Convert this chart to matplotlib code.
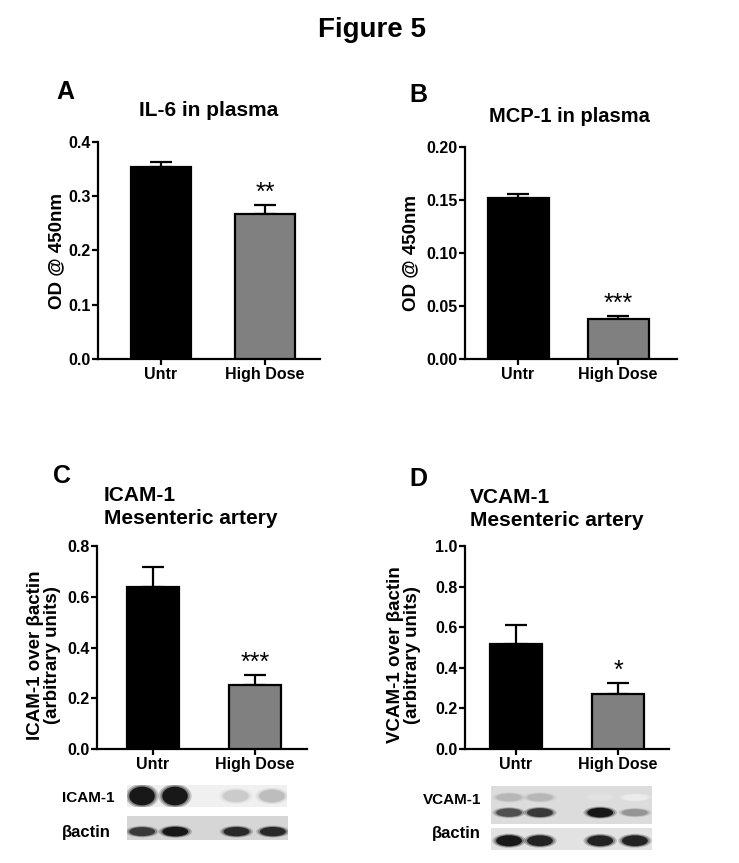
import matplotlib.pyplot as plt
from matplotlib.patches import Ellipse

W, H = 739, 863
plt.rcParams['font.family'] = ['Liberation Sans', 'DejaVu Sans']
plt.rcParams['font.weight'] = 'bold'

groups = ["Untr", "High Dose"]
bar_colors = ["black", "#808080"]

il6_mean = [0.354, 0.268]
il6_err = [0.009, 0.016]
mcp1_mean = [0.152, 0.038]
mcp1_err = [0.0035, 0.003]
icam_mean = [0.638, 0.252]
icam_err = [0.080, 0.039]
vcam_mean = [0.518, 0.273]
vcam_err = [0.092, 0.054]

il6_stars = ["", "**"]
mcp1_stars = ["", "***"]
icam_stars = ["", "***"]
vcam_stars = ["", "*"]

# western blot band intensities (0 = none, 1 = saturated), one per lane
icam_band = [1.0, 1.0, 0.22, 0.28]
icam_actin = [0.85, 1.0, 0.92, 0.92]
vcam_upper = [0.30, 0.30, 0.12, 0.08]
vcam_lower = [0.75, 0.85, 1.0, 0.45]
vcam_actin = [1.0, 0.95, 0.95, 0.95]


def box(l, r, t, b):
    return [l / W, 1 - b / H, (r - l) / W, (b - t) / H]


def txt(fig, x, y, s, **kw):
    fig.text(x / W, 1 - y / H, s, **kw)


def bar_panel(fig, rect_px, centers_px, bw_px, means, errs, stars, ymax, step, fmt):
    l, r, t, b = rect_px
    ax = fig.add_axes(box(l, r, t, b))
    sp = centers_px[1] - centers_px[0]
    x = [0, 1]
    ax.bar(x, means, width=bw_px / sp, color=bar_colors, edgecolor="black",
           linewidth=1.6, zorder=3)
    ax.errorbar(x, means, yerr=[[0, 0], errs], fmt="none", ecolor="black",
                elinewidth=1.6, capsize=8, capthick=1.6, zorder=2)
    for xi, m, e, s in zip(x, means, errs, stars):
        if s:
            ax.annotate(s, (xi, m + e), xytext=(0, 0), textcoords="offset points",
                        ha="center", va="bottom", fontsize=18, fontweight="normal")
    ax.set_xlim(-(centers_px[0] - l) / sp, 1 + (r - centers_px[1]) / sp)
    ax.set_ylim(0, ymax)
    n = int(round(ymax / step))
    ticks = [i * step for i in range(n + 1)]
    ax.set_yticks(ticks)
    ax.set_yticklabels([fmt.format(v) for v in ticks])
    ax.set_xticks(x)
    ax.set_xticklabels(groups)
    for s in ["top", "right"]:
        ax.spines[s].set_visible(False)
    for s in ["left", "bottom"]:
        ax.spines[s].set_linewidth(1.6)
    ax.tick_params(labelsize=11.5, width=1.6, length=4, direction="out", pad=1.5)
    for lab in ax.get_xticklabels() + ax.get_yticklabels():
        lab.set_fontweight("bold")
    return ax


def blot(fig, rect_px, bg, lanes, rows):
    ax = fig.add_axes(box(*rect_px))
    ax.set_facecolor(bg)
    ax.set_xlim(0, 5)
    ax.set_ylim(0, 1)
    for vals, yc, hmax in rows:
        for xc, v in zip(lanes, vals):
            g = 1 - 0.95 * v
            h = hmax * (0.55 + 0.45 * v)
            for s, a in [(1.3, 0.2), (1.15, 0.35), (1.0, 0.9)]:
                ax.add_patch(Ellipse((xc, yc), 0.8 * s, h * s, facecolor=(g, g, g),
                                     edgecolor="none", alpha=a))
    ax.set_xticks([])
    ax.set_yticks([])
    for s in ax.spines.values():
        s.set_visible(False)
    return ax


fig = plt.figure(figsize=(W / 100, H / 100), dpi=100)

txt(fig, 372, 30, "Figure 5", fontsize=20, fontweight="bold", ha="center", va="center")

# A
bar_panel(fig, (98, 320, 142, 359), (161, 265), 60, il6_mean, il6_err, il6_stars,
          0.4, 0.1, "{:.1f}")
txt(fig, 65, 92, "A", fontsize=18, fontweight="bold", ha="center", va="center")
txt(fig, 209, 110, "IL-6 in plasma", fontsize=15, fontweight="bold", ha="center", va="center")
txt(fig, 57, 251, "OD @ 450nm", fontsize=13.5, fontweight="bold", ha="center", va="center",
    rotation=90)

# B
bar_panel(fig, (465, 677, 147, 359), (518, 618), 61, mcp1_mean, mcp1_err, mcp1_stars,
          0.20, 0.05, "{:.2f}")
txt(fig, 418, 95, "B", fontsize=18, fontweight="bold", ha="center", va="center")
txt(fig, 569, 116, "MCP-1 in plasma", fontsize=14.5, fontweight="bold", ha="center", va="center")
txt(fig, 411, 253, "OD @ 450nm", fontsize=13.5, fontweight="bold", ha="center", va="center",
    rotation=90)

# C
bar_panel(fig, (97, 307, 546, 749), (153, 255), 52, icam_mean, icam_err, icam_stars,
          0.8, 0.2, "{:.1f}")
txt(fig, 62, 476, "C", fontsize=18, fontweight="bold", ha="center", va="center")
txt(fig, 104, 507, "ICAM-1\nMesenteric artery", fontsize=15, fontweight="bold",
    ha="left", va="center", linespacing=1.3)
txt(fig, 44, 655, "ICAM-1 over βactin\n(arbitrary units)", fontsize=13.5, fontweight="bold",
    ha="center", va="center", rotation=90, linespacing=0.95)

# D
bar_panel(fig, (465, 669, 546, 749), (516, 618), 52, vcam_mean, vcam_err, vcam_stars,
          1.0, 0.2, "{:.1f}")
txt(fig, 418, 479, "D", fontsize=18, fontweight="bold", ha="center", va="center")
txt(fig, 470, 509, "VCAM-1\nMesenteric artery", fontsize=15, fontweight="bold",
    ha="left", va="center", linespacing=1.3)
txt(fig, 404, 655, "VCAM-1 over βactin\n(arbitrary units)", fontsize=13.5, fontweight="bold",
    ha="center", va="center", rotation=90, linespacing=0.95)

# blots under C
lanes_c = [0.47, 1.5, 3.4, 4.53]
blot(fig, (127, 287, 785, 807), "#f0f0f0", lanes_c, [(icam_band, 0.5, 0.85)])
blot(fig, (127, 288, 816, 840), "#d6d6d6", lanes_c, [(icam_actin, 0.35, 0.4)])
txt(fig, 62, 798, "ICAM-1", fontsize=11, fontweight="bold", ha="left", va="center")
txt(fig, 62, 832, "βactin", fontsize=12, fontweight="bold", ha="left", va="center")

# blots under D
lanes_d = [0.56, 1.52, 3.39, 4.47]
blot(fig, (491, 652, 786, 824), "#dcdcdc", lanes_d,
     [(vcam_upper, 0.7, 0.3), (vcam_lower, 0.3, 0.25)])
blot(fig, (491, 652, 828, 850), "#e2e2e2", lanes_d, [(vcam_actin, 0.42, 0.5)])
txt(fig, 423, 800, "VCAM-1", fontsize=11, fontweight="bold", ha="left", va="center")
txt(fig, 432, 833, "βactin", fontsize=12, fontweight="bold", ha="left", va="center")

fig.savefig("out.png", dpi=100)
